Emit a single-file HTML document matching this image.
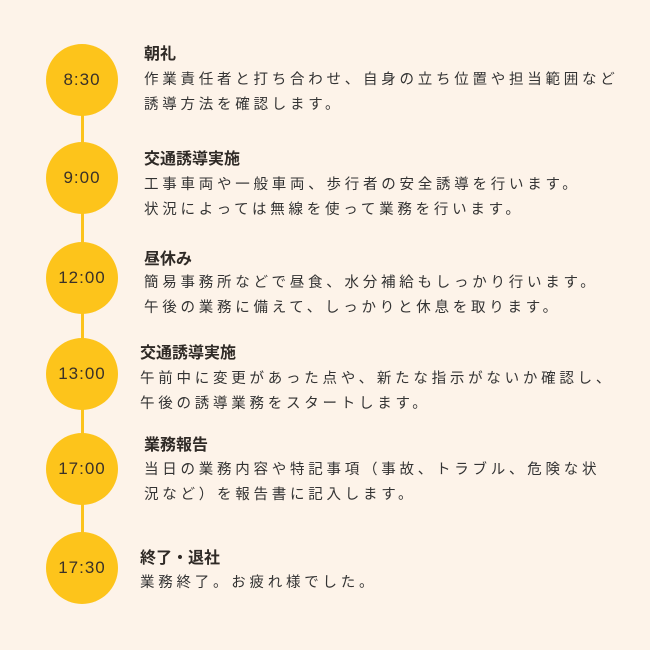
<!DOCTYPE html>
<html><head><meta charset="utf-8"><style>
body{margin:0;width:650px;height:650px;background:#fdf3e9;position:relative;overflow:hidden;font-family:"Liberation Sans","Noto Sans CJK JP",sans-serif;color:#333;}
.line{position:absolute;left:81px;top:80px;width:3px;height:488px;background:#fcc31c;}
.c{position:absolute;left:46px;width:72px;height:72px;border-radius:50%;background:#fdc41b;display:flex;align-items:center;justify-content:center;font-size:17px;color:#3a3128;letter-spacing:1px;}
.t{position:absolute;left:144px;font-size:16px;font-weight:bold;white-space:nowrap;color:#2f2a26;}
.b{position:absolute;left:144px;font-size:14.5px;letter-spacing:3.75px;white-space:nowrap;color:#333;line-height:25px;}
</style></head><body>
<div class="line"></div>
<div class="c" style="top:44px">8:30</div>
<div class="c" style="top:142px">9:00</div>
<div class="c" style="top:242px">12:00</div>
<div class="c" style="top:338px">13:00</div>
<div class="c" style="top:433px">17:00</div>
<div class="c" style="top:532px">17:30</div>

<div class="t" style="top:40px">朝礼</div>
<div class="b" style="top:68px">作業責任者と打ち合わせ、自身の立ち位置や担当範囲など<br>誘導方法を確認します。</div>

<div class="t" style="top:145px">交通誘導実施</div>
<div class="b" style="top:173px">工事車両や一般車両、歩行者の安全誘導を行います。<br>状況によっては無線を使って業務を行います。</div>

<div class="t" style="top:245px">昼休み</div>
<div class="b" style="top:271px">簡易事務所などで昼食、水分補給もしっかり行います。<br>午後の業務に備えて、しっかりと休息を取ります。</div>

<div class="t" style="top:339px;left:140px">交通誘導実施</div>
<div class="b" style="top:367px;left:140px">午前中に変更があった点や、新たな指示がないか確認し、<br>午後の誘導業務をスタートします。</div>

<div class="t" style="top:431px">業務報告</div>
<div class="b" style="top:458px">当日の業務内容や特記事項（事故、トラブル、危険な状<br>況など）を報告書に記入します。</div>

<div class="t" style="top:544px;left:140px">終了・退社</div>
<div class="b" style="top:571px;left:140px">業務終了。お疲れ様でした。</div>
</body></html>
